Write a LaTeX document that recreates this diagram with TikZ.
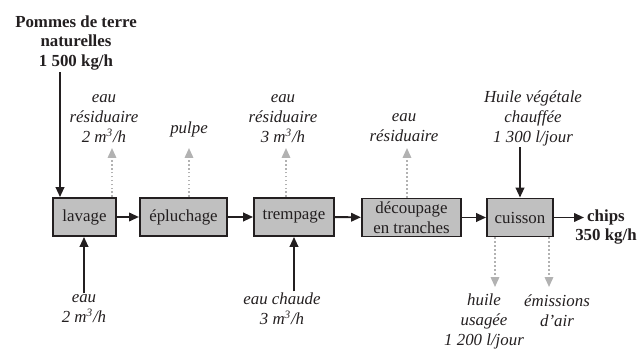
\documentclass[tikz,border=0pt]{standalone}
\usepackage{fontspec}
\setmainfont{Liberation Serif}
\usetikzlibrary{arrows.meta}
\definecolor{boxgray}{RGB}{192,192,192}
\definecolor{wastegray}{RGB}{178,178,178}
\definecolor{ink}{RGB}{35,31,32}
\newcommand\flowsize{\fontsize{12}{14.2}\selectfont}
\tikzset{%
  proc/.style  = {shape=rectangle, draw=ink, fill=boxgray, line width=1.3pt,%
                  minimum height=0.95cm, inner sep=1pt, align=center,%
                  text=ink, font=\flowsize},%
  lbl/.style   = {align=center, inner sep=1pt, text=ink, font=\flowsize\itshape},%
  lblb/.style  = {align=center, inner sep=1pt, text=ink, font=\flowsize\bfseries},%
  flow/.style  = {draw=ink, line width=1.4pt, -{Triangle[length=7pt,width=6pt]}},%
  waste/.style = {draw=wastegray, line width=1.2pt, dash pattern=on 1.2pt off 1.6pt,%
                  -{Triangle[length=7pt,width=6pt]}}%
}
\begin{document}
\begin{tikzpicture}[x=0.025cm,y=-0.025cm]
	\useasboundingbox (0,0) rectangle (639,349);
	% process chain
	\node[proc, minimum width=1.58cm] (lavage) at (84.5,217) {lavage};
	\node[proc, minimum width=2.18cm] (epluchage) at (183.5,217) {épluchage};
	\node[proc, minimum width=2cm] (trempage) at (294,217) {trempage};
	\node[proc, minimum width=2.48cm] (decoupage) at (411.5,217.5) {découpage\\en tranches};
	\node[proc, minimum width=1.65cm] (cuisson) at (520,217.5) {cuisson};
	% inputs and outputs
	\node[lblb] (pommes) at (76,43) {Pommes de terre\\naturelles\\1 500 kg/h};
	\node[lbl] (eauRes1) at (104,119) {eau\\résiduaire\\2 m\textsuperscript{3}/h};
	\node[lbl] (pulpe) at (189,129) {pulpe};
	\node[lbl] (eauRes2) at (283,119) {eau\\résiduaire\\3 m\textsuperscript{3}/h};
	\node[lbl] (eauRes3) at (404,128) {eau\\résiduaire};
	\node[lbl] (huile) at (533,118) {Huile végétale\\chauffée\\1 300 l/jour};
	\node[lbl] (eau) at (84,309) {eau\\2 m\textsuperscript{3}/h};
	\node[lbl] (eauChaude) at (282,309) {eau chaude\\3 m\textsuperscript{3}/h};
	\node[lbl] (huileUs) at (484,321) {huile\\usagée\\1 200 l/jour};
	\node[lbl] (emissions) at (557,311) {émissions\\d’air};
	\node[lblb] (chips) at (606,227) {chips\\350 kg/h};
	\coordinate (in1) at ([xshift=5.7pt]lavage.north west);
	\coordinate (w1) at (112,148);
	\coordinate (w2) at (189,148);
	\coordinate (w3) at (286,148);
	\coordinate (w4) at (407,148);
	\coordinate (o1) at (495,287);
	\coordinate (o2) at (549,287);
	\coordinate (out) at (584,217.5);
	\draw[flow] (lavage) -- (epluchage);
	\draw[flow] (epluchage) -- (trempage);
	\draw[flow] (trempage) -- (decoupage);
	\draw[flow] (decoupage) -- (cuisson);
	\draw[flow] (cuisson) -- (out);
	\draw[flow] (in1 |- pommes.south) -- (in1);
	\draw[flow] (eau.north) -- (eau.north |- lavage.south);
	\draw[flow] (trempage.south |- eauChaude.north) -- (trempage.south);
	\draw[flow] (cuisson.north |- huile.south) -- (cuisson.north);
	\draw[waste] (lavage.north -| w1) -- (w1);
	\draw[waste] (epluchage.north -| w2) -- (w2);
	\draw[waste] (trempage.north -| w3) -- (w3);
	\draw[waste] (decoupage.north -| w4) -- (w4);
	\draw[waste] (cuisson.south -| o1) -- (o1);
	\draw[waste] (cuisson.south -| o2) -- (o2);
\end{tikzpicture}
\end{document}
